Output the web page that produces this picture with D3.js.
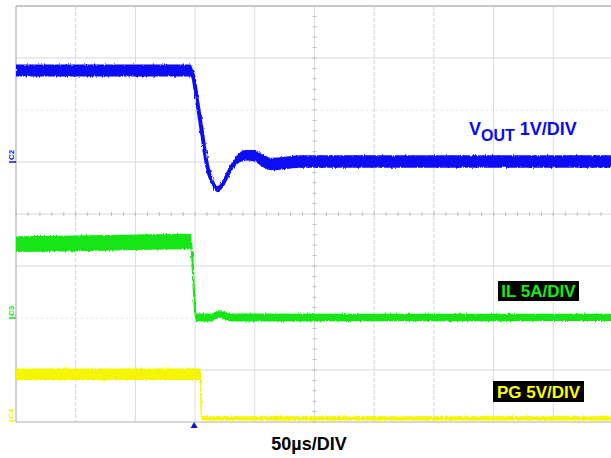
<!DOCTYPE html>
<html>
<head>
<meta charset="utf-8">
<script src="https://cdn.jsdelivr.net/npm/d3@7/dist/d3.min.js"></script>
<style>
  html, body { margin: 0; padding: 0; background: #fff; }
  svg { display: block; }
  text { font-family: "Liberation Sans", Arial, sans-serif; font-weight: bold; }
</style>
</head>
<body>
<svg id="chart" width="611" height="458"></svg>
<script>
// ---------------- DATA ----------------
// time in microseconds (50 µs/div, trigger at t = 0)
const timeDivTicks = [-150, -100, -50, 0, 50, 100, 150, 200, 250, 300, 350];
const vertDivTicks = [-4, -3, -2, -1, 0, 1, 2, 3, 4];

// VOUT (1 V/div) : centre of trace and ripple band height (V)
const voutTime   = [-150, -4.3, -1.8, 1.6, 5.8, 10.0, 14.2, 19.2, 24.2, 29.2, 35.9, 42.6, 49.3, 56.9, 64.4, 75.3, 87.9, 350];
const voutValue  = [1.76, 1.76, 1.67, 1.19, 0.56, -0.06, -0.38, -0.52, -0.38, -0.15, 0.06, 0.13, 0.12, 0.02, -0.04, -0.02, 0.01, 0.01];
const voutRipple = [0.23, 0.23, 0.20, 0.14, 0.12, 0.12, 0.12, 0.12, 0.14, 0.16, 0.18, 0.20, 0.22, 0.24, 0.24, 0.24, 0.24, 0.24];

// IL (5 A/div)
const ilTime   = [-150, -75, -3.7, 0.8, 14, 17, 21, 25, 29, 350];
const ilValue  = [7.10, 7.22, 7.35, 0.05, 0.05, 0.22, 0.38, 0.22, 0.05, 0.05];
const ilRipple = [1.50, 1.50, 1.50, 0.75, 0.75, 0.75, 0.75, 0.75, 0.75, 0.70];

// PG (5 V/div)
const pgTime   = [-150, 4.6, 5.2, 350];
const pgValue  = [4.50, 4.50, 0.25, 0.25];
const pgRipple = [1.10, 1.10, 0.40, 0.40];

const labels = {
  vout: ["V", "OUT", " 1V/DIV"],
  il: "IL 5A/DIV",
  pg: "PG 5V/DIV",
  time: "50µs/DIV",
  markers: ["C2", "C3", "C4"]
};

// ---------------- LAYOUT ----------------
const svg = d3.select("#chart");
const L = 16, R = 613, T = 6, B = 422;

const x = d3.scaleLinear().domain([-150, 350]).range([L, R]);
const yDiv = d3.scaleLinear().domain([-4, 4]).range([B, T]);

// channel: reference position (div) and units per div
const channels = {
  vout: { ref: 1.0,   perDiv: 1, color: "#0a0af5" },
  il:   { ref: -2.0,  perDiv: 5, color: "#14e614" },
  pg:   { ref: -3.98, perDiv: 5, color: "#f5f500" }
};
function yOf(ch, v) { return yDiv(ch.ref + v / ch.perDiv); }

// ---------------- GRID ----------------
const grid = svg.append("g");
const dashedX = new Set([-100, 150, 200]);
const dashedY = new Set([2, -2]);

grid.selectAll(".vx").data(timeDivTicks.slice(1)).enter().append("line")
  .attr("x1", d => x(d)).attr("x2", d => x(d))
  .attr("y1", T).attr("y2", B)
  .attr("stroke", d => dashedX.has(d) ? "#cfcfcf" : "#dcdcdc")
  .attr("stroke-width", 1)
  .attr("stroke-dasharray", d => dashedX.has(d) ? "4,2" : null);

grid.selectAll(".hy").data(vertDivTicks.slice(1, -1)).enter().append("line")
  .attr("x1", L).attr("x2", R)
  .attr("y1", d => yDiv(d)).attr("y2", d => yDiv(d))
  .attr("stroke", d => dashedY.has(d) ? "#e2e2e2" : "#d8d8d8")
  .attr("stroke-width", 1)
  .attr("stroke-dasharray", d => dashedY.has(d) ? "2,3" : null);

// minor ticks on centre lines
const minorT = d3.range(-150, 351, 10);
grid.selectAll(".mt").data(minorT).enter().append("line")
  .attr("x1", d => x(d)).attr("x2", d => x(d))
  .attr("y1", yDiv(0) - 2).attr("y2", yDiv(0) + 2)
  .attr("stroke", "#bdbdbd").attr("stroke-width", 1);
const minorV = d3.range(-4, 4.01, 0.2);
grid.selectAll(".mv").data(minorV).enter().append("line")
  .attr("x1", x(100) - 2).attr("x2", x(100) + 2)
  .attr("y1", d => yDiv(d)).attr("y2", d => yDiv(d))
  .attr("stroke", "#bdbdbd").attr("stroke-width", 1);

// border
grid.append("line").attr("x1", L).attr("x2", R).attr("y1", T).attr("y2", T)
  .attr("stroke", "#c8c8c8").attr("stroke-width", 2);
grid.append("line").attr("x1", L).attr("x2", R).attr("y1", B).attr("y2", B)
  .attr("stroke", "#c8c8c8").attr("stroke-width", 1.5);
grid.append("line").attr("x1", L).attr("x2", L).attr("y1", T).attr("y2", B)
  .attr("stroke", "#c0c0c0").attr("stroke-width", 1.5);

// ---------------- TRACES ----------------
const defs = svg.append("defs");
defs.append("clipPath").attr("id", "plotclip").append("rect")
  .attr("x", L).attr("y", T - 2).attr("width", R - L).attr("height", B - T + 2);
const f = defs.append("filter").attr("id", "rough")
  .attr("x", "-5%").attr("y", "-20%").attr("width", "110%").attr("height", "140%");
f.append("feTurbulence").attr("type", "fractalNoise")
  .attr("baseFrequency", "0.9 0.2").attr("numOctaves", 2).attr("seed", 3).attr("result", "n");
f.append("feDisplacementMap").attr("in", "SourceGraphic").attr("in2", "n")
  .attr("scale", 3).attr("xChannelSelector", "R").attr("yChannelSelector", "G");

const traces = svg.append("g").attr("clip-path", "url(#plotclip)");

function drawTrace(ch, ts, vs, rs, lineW) {
  const pts = ts.map((t, i) => ({ t, v: vs[i], r: rs[i] }));
  const area = d3.area()
    .x(d => x(d.t))
    .y0(d => yOf(ch, d.v - d.r / 2))
    .y1(d => yOf(ch, d.v + d.r / 2))
    .curve(d3.curveMonotoneX);
  const line = d3.line().x(d => x(d.t)).y(d => yOf(ch, d.v)).curve(d3.curveMonotoneX);
  const g = traces.append("g").attr("filter", "url(#rough)");
  g.append("path").attr("d", area(pts)).attr("fill", ch.color);
  g.append("path").attr("d", line(pts)).attr("fill", "none")
    .attr("stroke", ch.color).attr("stroke-width", lineW);
}

drawTrace(channels.pg, pgTime, pgValue, pgRipple, 1.6);
drawTrace(channels.il, ilTime, ilValue, ilRipple, 2.2);
drawTrace(channels.vout, voutTime, voutValue, voutRipple, 4);

// ---------------- MARKERS ----------------
const markerCh = [channels.vout, channels.il, channels.pg];
markerCh.forEach((ch, i) => {
  const yy = yDiv(ch.ref);
  svg.append("line").attr("x1", 9).attr("x2", 16).attr("y1", yy).attr("y2", yy)
    .attr("stroke", ch.color).attr("stroke-width", 1.5);
  svg.append("text")
    .attr("transform", `translate(14,${yy - 2}) rotate(-90)`)
    .attr("font-size", 8).attr("font-weight", "normal")
    .attr("fill", ch.color).attr("text-anchor", "start")
    .text(labels.markers[i]);
});

// trigger marker
svg.append("path")
  .attr("d", d3.symbol().type(d3.symbolTriangle).size(22)())
  .attr("transform", `translate(${x(0) - 1},${B + 4})`)
  .attr("fill", "#1010e0");

// ---------------- LABELS ----------------
const vt = svg.append("text").attr("x", 469).attr("y", 135).attr("fill", "#0a0af0");
vt.append("tspan").attr("font-size", 18).text(labels.vout[0]);
vt.append("tspan").attr("font-size", 16).attr("dy", 5.5).text(labels.vout[1]);
vt.append("tspan").attr("font-size", 18).attr("dy", -5.5).text(labels.vout[2]);

function boxLabel(txt, cx, y0, w, h, color) {
  svg.append("rect").attr("x", cx - w / 2).attr("y", y0).attr("width", w).attr("height", h).attr("fill", "#000");
  svg.append("text").attr("x", cx).attr("y", y0 + h - 4).attr("text-anchor", "middle")
    .attr("font-size", 17).attr("fill", color).text(txt);
}
boxLabel(labels.il, 538.5, 281, 81, 20, "#14ee14");
boxLabel(labels.pg, 538.5, 381, 91, 21, "#ffff00");

svg.append("text").attr("x", 309).attr("y", 450).attr("text-anchor", "middle")
  .attr("font-size", 18).attr("fill", "#000").text(labels.time);
</script>
</body>
</html>
